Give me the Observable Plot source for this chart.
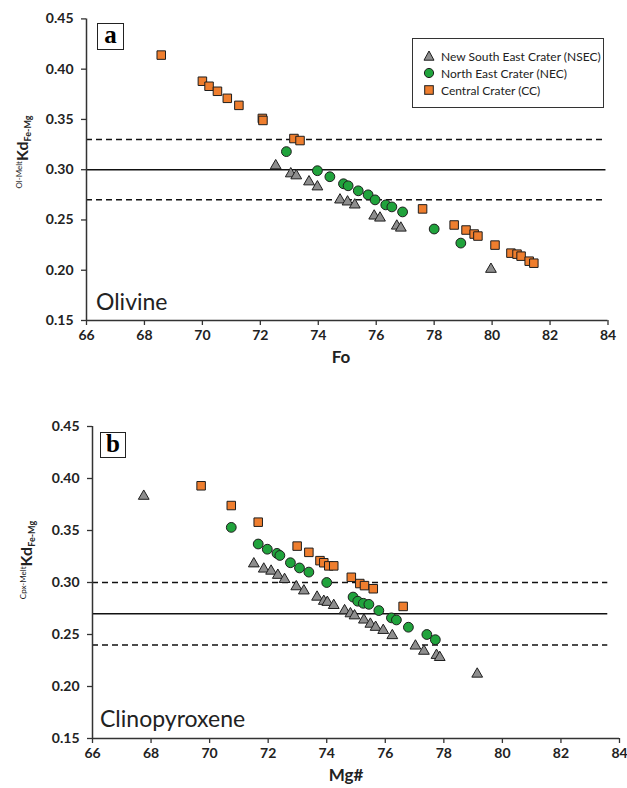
<!DOCTYPE html>
<html>
<head>
<meta charset="utf-8">
<script src="https://cdn.jsdelivr.net/npm/d3@7"></script>
<script src="https://cdn.jsdelivr.net/npm/@observablehq/plot@0.6"></script>
<style>
  body { margin: 0; background: #fff; }
  #wrap { position: relative; width: 627px; height: 788px; background: #fff; overflow: hidden; font-family: Lato, "Open Sans", sans-serif; }
  .panel { position: absolute; left: 0; }
  .tag { position: absolute; border: 1.6px solid #222; font-family: "Liberation Serif", "DejaVu Serif", serif; font-weight: bold; font-size: 25px; line-height: 21px; text-align: center; box-sizing: border-box; background: #fff; }
  .mineral { position: absolute; font-family: Lato, sans-serif; font-size: 23px; color: #222; line-height: 1; }
  .title { position: absolute; font-family: Lato, sans-serif; font-weight: bold; font-size: 17px; color: #222; transform: translateX(-50%); line-height: 1; }
  #legend { position: absolute; left: 412px; top: 38px; width: 192px; height: 70px; border: 1.6px solid #333; box-sizing: border-box; background: #fff; font-family: Lato, sans-serif; font-size: 12px; color: #222; }
  .lrow { position: absolute; left: 10px; height: 14px; display: flex; align-items: center; }
  .lrow svg { margin-right: 6px; }
</style>
</head>
<body>
<div id="wrap"></div>
<script>
// ---------- Data: panel a (Olivine) ----------
const olNSEC_Fo = [72.53, 73.05, 73.24, 73.68, 73.97, 74.75, 75.01, 75.26, 75.93, 76.13, 76.71, 76.85, 79.96];
const olNSEC_Kd = [0.304, 0.296, 0.294, 0.288, 0.283, 0.270, 0.268, 0.265, 0.254, 0.252, 0.244, 0.242, 0.201];
const olNEC_Fo = [72.90, 73.97, 74.40, 74.87, 75.03, 75.38, 75.72, 75.96, 76.33, 76.54, 76.91, 78.00, 78.92];
const olNEC_Kd = [0.318, 0.299, 0.293, 0.286, 0.284, 0.279, 0.275, 0.270, 0.265, 0.263, 0.258, 0.241, 0.227];
const olCC_Fo = [68.58, 70.00, 70.23, 70.52, 70.86, 71.26, 72.07, 72.09, 73.16, 73.37, 77.60, 78.69, 79.10, 79.38, 79.51, 80.10, 80.65, 80.86, 81.00, 81.28, 81.44];
const olCC_Kd = [0.414, 0.388, 0.383, 0.378, 0.371, 0.364, 0.351, 0.349, 0.331, 0.329, 0.261, 0.245, 0.240, 0.236, 0.234, 0.225, 0.217, 0.216, 0.214, 0.209, 0.207];
const olLines = {mean: 0.30, low: 0.27, high: 0.33};

// ---------- Data: panel b (Clinopyroxene) ----------
const cpxNSEC_Mg = [67.75, 71.51, 71.85, 72.10, 72.33, 72.56, 72.96, 73.22, 73.67, 73.90, 74.02, 74.24, 74.61, 74.81, 74.95, 75.27, 75.49, 75.67, 75.93, 76.24, 77.03, 77.32, 77.75, 77.86, 79.14];
const cpxNSEC_Kd = [0.383, 0.318, 0.313, 0.311, 0.307, 0.303, 0.296, 0.292, 0.286, 0.282, 0.281, 0.278, 0.273, 0.270, 0.268, 0.264, 0.260, 0.257, 0.254, 0.249, 0.239, 0.234, 0.230, 0.228, 0.212];
const cpxNEC_Mg = [70.74, 71.66, 71.97, 72.30, 72.40, 72.76, 73.07, 73.39, 74.00, 74.90, 75.06, 75.25, 75.44, 75.78, 76.21, 76.38, 76.79, 77.42, 77.71];
const cpxNEC_Kd = [0.353, 0.337, 0.332, 0.328, 0.326, 0.319, 0.314, 0.310, 0.300, 0.286, 0.282, 0.280, 0.279, 0.273, 0.266, 0.264, 0.257, 0.250, 0.245];
const cpxCC_Mg = [69.71, 70.74, 71.66, 72.99, 73.39, 73.77, 73.90, 74.07, 74.24, 74.84, 75.13, 75.29, 75.59, 76.61];
const cpxCC_Kd = [0.393, 0.374, 0.358, 0.335, 0.329, 0.321, 0.319, 0.316, 0.316, 0.305, 0.299, 0.297, 0.294, 0.277];
const cpxLines = {mean: 0.27, low: 0.24, high: 0.30};

const xTicks = [66, 68, 70, 72, 74, 76, 78, 80, 82, 84];
const yTicks = [0.15, 0.20, 0.25, 0.30, 0.35, 0.40, 0.45];

const seriesNames = ["New South East Crater (NSEC)", "North East Crater (NEC)", "Central Crater (CC)"];
const colors = {tri: "#8e8e8e", circ: "#20a33c", sq: "#ef7e2e", edge: "#1e1e1e"};

const toRows = (xs, ys) => xs.map((x, i) => ({x, y: ys[i]}));

function panel({nsec, nec, cc, lines, lineEnd, marginLeft, marginRight, marginTop, height, marginBottom}) {
  return Plot.plot({
    width: 627, height, marginLeft, marginRight, marginTop, marginBottom,
    style: {fontFamily: "Lato, sans-serif", fontSize: "14px", fontWeight: "bold", color: "#222", background: "transparent"},
    x: {domain: [66, 84]},
    y: {domain: [0.15, 0.45]},
    marks: [
      Plot.ruleY([lines.mean], {x1: 66, x2: lineEnd, stroke: "#111", strokeWidth: 1.5}),
      Plot.ruleY([lines.low, lines.high], {x1: 66, x2: lineEnd, stroke: "#111", strokeWidth: 1.5, strokeDasharray: "6,4"}),
      Plot.axisX({ticks: xTicks, tickSize: 5, tickPadding: 5, tickFormat: d => d, label: null, stroke: "#333", strokeWidth: 1.3}),
      Plot.axisY({ticks: yTicks, tickSize: 5, tickPadding: 8, tickFormat: d3.format(".2f"), label: null, stroke: "#333", strokeWidth: 1.3}),
      Plot.ruleY([0.15], {stroke: "#333", strokeWidth: 1.5}),
      Plot.ruleX([66], {stroke: "#333", strokeWidth: 1.5}),
      Plot.dot(nsec, {x: "x", y: "y", symbol: "triangle", r: 4, fill: colors.tri, stroke: colors.edge, strokeWidth: 1}),
      Plot.dot(nec, {x: "x", y: "y", symbol: "circle", r: 4.9, fill: colors.circ, stroke: colors.edge, strokeWidth: 1}),
      Plot.dot(cc, {x: "x", y: "y", symbol: "square", r: 4.8, fill: colors.sq, stroke: colors.edge, strokeWidth: 1})
    ]
  });
}

function addYLabel(svg, x, y, sup, main, sub) {
  const t = d3.select(svg).append("text")
    .attr("transform", `translate(${x},${y}) rotate(-90)`)
    .attr("text-anchor", "middle")
    .attr("fill", "#222")
    .style("font-family", "Lato, sans-serif");
  t.append("tspan").attr("font-size", 8).attr("font-weight", "normal").attr("dy", -6).text(sup);
  t.append("tspan").attr("font-size", 16).attr("font-weight", "bold").attr("dy", 6).text(main);
  t.append("tspan").attr("font-size", 9).attr("font-weight", "bold").attr("dy", 3).text(sub);
}

const wrap = document.getElementById("wrap");

// Panel a
const svgA = panel({
  nsec: toRows(olNSEC_Fo, olNSEC_Kd), nec: toRows(olNEC_Fo, olNEC_Kd), cc: toRows(olCC_Fo, olCC_Kd),
  lines: olLines, lineEnd: 83.93,
  marginLeft: 86, marginRight: 19.5, marginTop: 18.4, height: 370, marginBottom: 50
});
addYLabel(svgA, 28, 152, "Ol-Melt", "Kd", "Fe-Mg");
const dA = document.createElement("div"); dA.className = "panel"; dA.style.top = "0px"; dA.appendChild(svgA); wrap.appendChild(dA);

// Panel b
const svgB = panel({
  nsec: toRows(cpxNSEC_Mg, cpxNSEC_Kd), nec: toRows(cpxNEC_Mg, cpxNEC_Kd), cc: toRows(cpxCC_Mg, cpxCC_Kd),
  lines: cpxLines, lineEnd: 83.6,
  marginLeft: 92, marginRight: 8, marginTop: 38, height: 400, marginBottom: 50
});
addYLabel(svgB, 32, 560 - 388, "Cpx-Melt", "Kd", "Fe-Mg");
const dB = document.createElement("div"); dB.className = "panel"; dB.style.top = "388px"; dB.appendChild(svgB); wrap.appendChild(dB);

// Axis titles and annotations
function addDiv(cls, text, left, top, extra = {}) {
  const d = document.createElement("div"); d.className = cls; d.textContent = text;
  d.style.left = left + "px"; d.style.top = top + "px";
  Object.assign(d.style, extra); wrap.appendChild(d); return d;
}
addDiv("title", "Fo", 341, 348);
addDiv("title", "Mg#", 346, 766);
addDiv("mineral", "Olivine", 96, 290);
addDiv("mineral", "Clinopyroxene", 100, 707);
addDiv("tag", "a", 97, 23, {width: "27px", height: "27px"});
addDiv("tag", "b", 100, 432, {width: "26px", height: "26px"});

// Legend
const legend = document.createElement("div"); legend.id = "legend"; wrap.appendChild(legend);
const symSvg = {
  tri: `<svg width="12" height="12" viewBox="-6 -6 12 12"><path d="M0,-5L5,4.2L-5,4.2Z" fill="${colors.tri}" stroke="${colors.edge}" stroke-width="1"/></svg>`,
  circ: `<svg width="12" height="12" viewBox="-6 -6 12 12"><circle r="4.6" fill="${colors.circ}" stroke="${colors.edge}" stroke-width="1"/></svg>`,
  sq: `<svg width="12" height="12" viewBox="-6 -6 12 12"><rect x="-4.3" y="-4.3" width="8.6" height="8.6" fill="${colors.sq}" stroke="${colors.edge}" stroke-width="1"/></svg>`
};
[["tri", 10], ["circ", 27], ["sq", 44]].forEach(([k, top], i) => {
  const r = document.createElement("div"); r.className = "lrow"; r.style.top = top + "px";
  r.innerHTML = symSvg[k] + `<span>${seriesNames[i]}</span>`;
  legend.appendChild(r);
});
</script>
</body>
</html>
